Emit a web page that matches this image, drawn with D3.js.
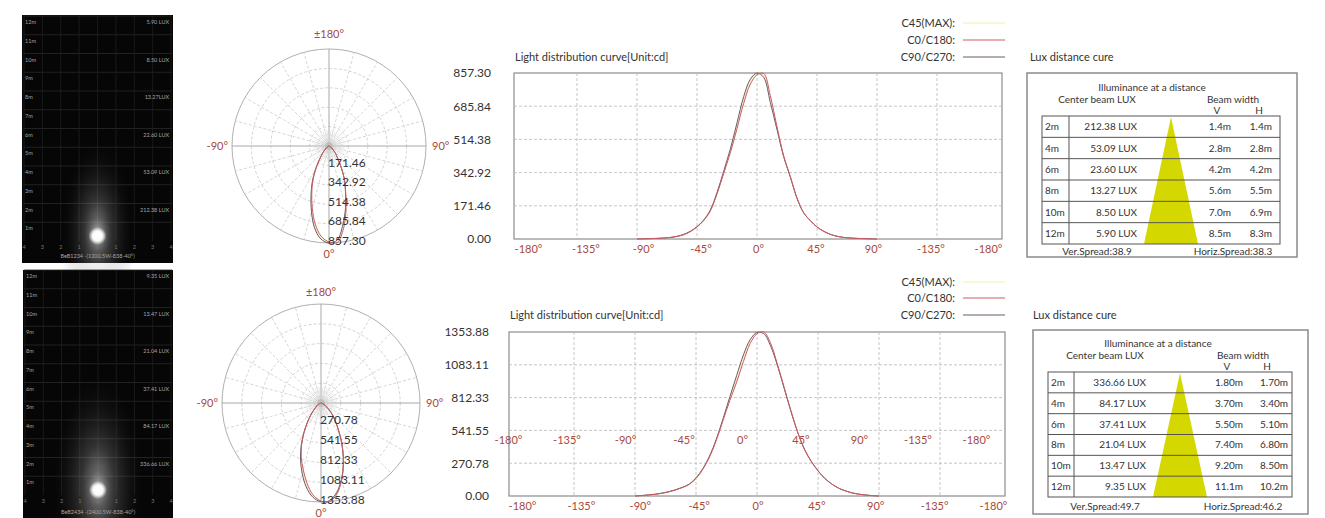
<!DOCTYPE html>
<html><head><meta charset="utf-8">
<script src="https://cdn.jsdelivr.net/npm/d3@7"></script>
<style>
body{margin:0;background:#fff}
svg{display:block}
text{font-family:Lato,"Open Sans","Noto Sans",sans-serif}
</style></head>
<body><svg id="c" width="1325" height="518"></svg>
<script>
// ---------------- DATA ----------------
const angles = [-90,-85,-80,-75,-70,-65,-60,-55,-50,-45,-40,-35,-30,-25,-20,-15,-10,-5,0,5,10,15,20,25,30,35,40,45,50,55,60,65,70,75,80,85,90];
// top luminaire (cd)
const topC45 = [0,1,2,3,5,8,13,23,39,63,96,148,236,344,455,585,718,812,852,845,722,572,428,321,211,135,95,62,40,24,14,8,5,3,2,1,0];
const topC0  = [0,1,2,3,5,8,13,22,38,62,95,145,232,338,445,570,700,800,848,855,740,580,430,322,212,136,95,62,40,24,14,8,5,3,2,1,0];
const topC90 = [0,1,2,3,5,8,14,24,40,64,98,150,240,350,465,600,735,825,857,835,705,565,425,320,210,135,95,62,40,24,14,8,5,3,2,1,0];
// bottom luminaire (cd)
const botC45 = [0,3,8,14,23,35,51,71,97,140,218,322,462,632,805,965,1140,1278,1345,1348,1250,1085,893,702,526,386,286,208,146,100,66,43,26,15,8,3,0];
const botC0  = [0,3,8,14,22,34,50,70,96,145,220,322,460,625,790,940,1110,1260,1340,1354,1262,1090,898,705,528,388,287,209,146,100,66,43,26,15,8,3,0];
const botC90 = [0,4,9,15,24,36,52,72,98,150,225,330,470,640,820,995,1165,1292,1350,1340,1240,1080,890,700,525,385,285,208,145,100,66,43,26,15,8,3,0];

const topYTicks = [0, 171.46, 342.92, 514.38, 685.84, 857.30];
const botYTicks = [0, 270.78, 541.55, 812.33, 1083.11, 1353.88];
const xTicks = [-180,-135,-90,-45,0,45,90,135,180];
const xTickLabels = ["-180°","-135°","-90°","-45°","0°","45°","90°","-135°","-180°"];
const legendNames = ["C45(MAX):","C0/C180:","C90/C270:"];

const distances = ["2m","4m","6m","8m","10m","12m"];
const topLux = ["212.38 LUX","53.09 LUX","23.60 LUX","13.27 LUX","8.50 LUX","5.90 LUX"];
const topV = ["1.4m","2.8m","4.2m","5.6m","7.0m","8.5m"];
const topH = ["1.4m","2.8m","4.2m","5.5m","6.9m","8.3m"];
const topSpread = ["Ver.Spread:38.9","Horiz.Spread:38.3"];
const botLux = ["336.66 LUX","84.17 LUX","37.41 LUX","21.04 LUX","13.47 LUX","9.35 LUX"];
const botV = ["1.80m","3.70m","5.50m","7.40m","9.20m","11.1m"];
const botH = ["1.70m","3.40m","5.10m","6.80m","8.50m","10.2m"];
const botSpread = ["Ver.Spread:49.7","Horiz.Spread:46.2"];

const meters = [1,2,3,4,5,6,7,8,9,10,11,12];
const panelX = [-4,-3,-2,-1,0,1,2,3,4];
const panelLuxMeters = [12,10,8,6,4,2];
const topPanelLux = ["5.90 LUX","8.50 LUX","13.27LUX","22.60 LUX","53.09 LUX","212.38 LUX"];
const botPanelLux = ["9.35 LUX","13.47 LUX","21.04 LUX","37.41 LUX","84.17 LUX","336.66 LUX"];
const panelNames = ["BeB1234 -(1200.5W-838-40°)","BeB2434 -(2400.5W-838-40°)"];

// ---------------- LAYOUT ----------------
const rows = [
 { dark:{x0:22,x1:173,y0:15,y1:263,base:241,step:18.75,labelY:258,glow:1},
   lux: topPanelLux, name: panelNames[0],
   polar:{cx:329,cy:146,R:97,topOff:11},
   chart:{x0:514,x1:1002,y0:73,y1:239,xa:517,xb:997,la:528,lb:988,labX:494,titleY:57,legY:[23,40,57],legTx:955,legL:[963,1005]},
   max:857.30, yTicks:topYTicks, c45:topC45,c0:topC0,c90:topC90,
   table:{bx:1027,by:73,bw:270,bh:184,tx0:1042,tx1:1280,ty0:116,ty1:244,col:1069,
          luxR:1137,vR:1231,hR:1272,tri:[1171,1144,1198],hdr:[87,99,110],vx:1217,hx:1259,cbl:1097,bwx:1233,ill:1152,spY:251,luxTitle:[1030,57]},
   tLux:topLux,tV:topV,tH:topH,spread:topSpread, midAxis:null },
 { dark:{x0:23,x1:173,y0:270,y1:518,base:495,step:18.75,labelY:514,glow:1.25},
   lux: botPanelLux, name: panelNames[1],
   polar:{cx:321,cy:403,R:99,topOff:8},
   chart:{x0:509,x1:1005,y0:332,y1:496,xa:513,xb:1001,la:522,lb:993,labX:492,titleY:315,legY:[282,298,315],legTx:955,legL:[963,1005]},
   max:1353.88, yTicks:botYTicks, c45:botC45,c0:botC0,c90:botC90,
   table:{bx:1033,by:330,bw:275,bh:184,tx0:1048,tx1:1292,ty0:372,ty1:497,col:1074,
          luxR:1146,vR:1243,hR:1288,tri:[1180,1153,1207],hdr:[343,355,366],vx:1227,hx:1267,cbl:1105,bwx:1243,ill:1158,spY:506,luxTitle:[1033,315]},
   tLux:botLux,tV:botV,tH:botH,spread:botSpread, midAxis:{a:508,b:976,y:442} }
];

const COL = {c45:"#f2f0b0", c0:"#cc5a66", c90:"#6a5a66", tick:"#a8493a", grid:"#b8b8b8", frame:"#8c8c8c"};

const svg = d3.select("#c");
const defs = svg.append("defs");
const g1 = defs.append("radialGradient").attr("id","glow");
g1.append("stop").attr("offset","0%").attr("stop-color","#fff").attr("stop-opacity",0.55);
g1.append("stop").attr("offset","35%").attr("stop-color","#bbb").attr("stop-opacity",0.25);
g1.append("stop").attr("offset","100%").attr("stop-color","#000").attr("stop-opacity",0);
const g2 = defs.append("radialGradient").attr("id","core");
g2.append("stop").attr("offset","0%").attr("stop-color","#fff").attr("stop-opacity",1);
g2.append("stop").attr("offset","55%").attr("stop-color","#fff").attr("stop-opacity",0.95);
g2.append("stop").attr("offset","100%").attr("stop-color","#fff").attr("stop-opacity",0);

rows.forEach((R,ri) => {
  // ---------- dark panel ----------
  const d = R.dark;
  const gp = svg.append("g");
  gp.append("rect").attr("x",d.x0).attr("y",d.y0).attr("width",d.x1-d.x0).attr("height",d.y1-d.y0).attr("fill","#060606");
  const my = d3.scaleLinear().domain([0,12]).range([d.base, d.base-12*d.step]);
  const mx = d3.scaleLinear().domain([-4,4]).range([d.x0+2, d.x1-2]);
  gp.selectAll("line.h").data(meters).join("line")
    .attr("x1",d.x0+1).attr("x2",d.x1-1).attr("y1",m=>my(m)).attr("y2",m=>my(m))
    .attr("stroke","#2a2a2a").attr("stroke-width",0.8);
  gp.selectAll("line.v").data(panelX).join("line")
    .attr("x1",v=>mx(v)).attr("x2",v=>mx(v)).attr("y1",my(12)).attr("y2",d.base)
    .attr("stroke","#1e1e1e").attr("stroke-width",0.8);
  const cxp = mx(0);
  gp.append("ellipse").attr("cx",cxp).attr("cy",d.base-8).attr("rx",38*d.glow).attr("ry",95*d.glow).attr("fill","url(#glow)");
  gp.append("ellipse").attr("cx",cxp).attr("cy",d.base-6).attr("rx",16).attr("ry",22).attr("fill","url(#glow)");
  gp.append("ellipse").attr("cx",cxp).attr("cy",d.base-5).attr("rx",9).attr("ry",9).attr("fill","url(#core)");
  gp.selectAll("text.m").data(meters).join("text")
    .attr("x",d.x0+3).attr("y",m=>my(m)+8).attr("font-size",5.5).attr("fill","#a5a5a5").text(m=>m+"m");
  gp.selectAll("text.l").data(panelLuxMeters).join("text")
    .attr("x",d.x1-4).attr("y",(m)=>my(m)+8).attr("text-anchor","end").attr("font-size",5.5).attr("fill","#a5a5a5")
    .text((m,i)=>R.lux[i]);
  gp.selectAll("text.x").data(panelX).join("text")
    .attr("x",v=>mx(v)).attr("y",d.base+8).attr("text-anchor","middle").attr("font-size",5.5).attr("fill","#777")
    .text(v=>Math.abs(v));
  gp.append("text").attr("x",cxp).attr("y",d.labelY).attr("text-anchor","middle").attr("font-size",5.5).attr("fill","#a5a5a5").text(R.name);

  // ---------- polar ----------
  const P = R.polar;
  const gpo = svg.append("g").attr("transform",`translate(${P.cx},${P.cy})`);
  const rS = d3.scaleLinear().domain([0,R.max]).range([0,P.R]);
  const ringVals = R.yTicks.slice(1);
  gpo.selectAll("circle.r").data(ringVals.slice(0,-1)).join("circle")
    .attr("r",v=>rS(v)).attr("fill","none").attr("stroke","#c8c8c8").attr("stroke-width",0.8).attr("stroke-dasharray","3,2");
  gpo.append("circle").attr("r",P.R).attr("fill","none").attr("stroke","#b0b0b0").attr("stroke-width",1);
  const spokes = d3.range(0,360,15);
  gpo.selectAll("line.s").data(spokes).join("line")
    .attr("x1",0).attr("y1",0)
    .attr("x2",a=>P.R*Math.sin(a*Math.PI/180)).attr("y2",a=>-P.R*Math.cos(a*Math.PI/180))
    .attr("stroke",a=>a%90===0?"#a8a8a8":"#cbcbcb").attr("stroke-width",a=>a%90===0?1:0.8)
    .attr("stroke-dasharray",a=>a%90===0?null:"3,2");
  const hub = d3.range(0,360,7.5);
  gpo.selectAll("line.hb").data(hub).join("line")
    .attr("x1",0).attr("y1",0)
    .attr("x2",a=>rS(ringVals[0])*0.8*Math.sin(a*Math.PI/180)).attr("y2",a=>-rS(ringVals[0])*0.8*Math.cos(a*Math.PI/180))
    .attr("stroke","#d0d0d0").attr("stroke-width",0.5);
  gpo.append("circle").attr("r",4).attr("fill","#b8b8b8").attr("opacity",0.7);
  const radial = arr => d3.lineRadial()
      .angle((v,i)=>Math.PI - angles[i]*Math.PI/180)
      .radius(v=>rS(v)).curve(d3.curveCatmullRom)(arr);
  gpo.append("path").attr("d",radial(R.c45)).attr("fill","none").attr("stroke",COL.c45).attr("stroke-width",1);
  gpo.append("path").attr("d",radial(R.c90)).attr("fill","none").attr("stroke",COL.c90).attr("stroke-width",1);
  gpo.append("path").attr("d",radial(R.c0)).attr("fill","none").attr("stroke",COL.c0).attr("stroke-width",1);
  gpo.selectAll("text.rl").data(ringVals).join("text")
    .attr("x",-1).attr("y",v=>rS(v)+1.5).attr("font-size",12).attr("fill","#333")
    .text(v=>v.toFixed(2));
  const pl = [["±180°",0,-P.R-P.topOff,"middle"],["-90°",-P.R-4,4,"end"],["90°",P.R+6,4,"start"],["0°",0,P.R+15,"middle"]];
  gpo.selectAll("text.pl").data(pl).join("text")
    .attr("x",p=>p[1]).attr("y",p=>p[2]).attr("text-anchor",p=>p[3]).attr("font-size",11).attr("fill",COL.tick).text(p=>p[0]);

  // ---------- line chart ----------
  const C = R.chart;
  const gc = svg.append("g");
  const x = d3.scaleLinear().domain([-180,180]).range([C.xa,C.xb]);
  const xl = d3.scaleLinear().domain([-180,180]).range([C.la,C.lb]);
  const y = d3.scaleLinear().domain([0,R.max]).range([C.y1,C.y0]);
  gc.append("rect").attr("x",C.x0).attr("y",C.y0).attr("width",C.x1-C.x0).attr("height",C.y1-C.y0)
    .attr("fill","#fff").attr("stroke",COL.frame).attr("stroke-width",1.2);
  gc.selectAll("line.gx").data(xTicks.slice(1,-1)).join("line")
    .attr("x1",v=>x(v)).attr("x2",v=>x(v)).attr("y1",C.y0).attr("y2",C.y1)
    .attr("stroke",COL.grid).attr("stroke-width",0.8).attr("stroke-dasharray","3,2");
  gc.selectAll("line.gy").data(R.yTicks.slice(1,-1)).join("line")
    .attr("x1",C.x0).attr("x2",C.x1).attr("y1",v=>y(v)).attr("y2",v=>y(v))
    .attr("stroke",COL.grid).attr("stroke-width",0.8).attr("stroke-dasharray","3,2");
  const yAx = d3.axisLeft(y).tickValues(R.yTicks).tickSize(0).tickFormat(v=>v.toFixed(2));
  const ya = gc.append("g").attr("transform",`translate(${C.labX},0)`).call(yAx);
  ya.select(".domain").remove();
  ya.selectAll("text").attr("font-size",12).attr("fill","#333").attr("font-family","Lato,'Open Sans',sans-serif");
  const xAx = d3.axisBottom(xl).tickValues(xTicks).tickSize(0).tickFormat((v,i)=>xTickLabels[i]);
  const xa = gc.append("g").attr("transform",`translate(0,${C.y1+3})`).call(xAx);
  xa.select(".domain").remove();
  xa.selectAll("text").attr("font-size",11).attr("fill",COL.tick).attr("font-family","Lato,'Open Sans',sans-serif");
  if (R.midAxis) {
    const xm = d3.scaleLinear().domain([-180,180]).range([R.midAxis.a,R.midAxis.b]);
    const ma = gc.append("g").attr("transform",`translate(0,${R.midAxis.y-9})`).call(d3.axisBottom(xm).tickValues(xTicks).tickSize(0).tickFormat((v,i)=>xTickLabels[i]));
    ma.select(".domain").remove();
    ma.selectAll("text").attr("font-size",11).attr("fill",COL.tick).attr("font-family","Lato,'Open Sans',sans-serif");
  }
  const line = d3.line().x((v,i)=>x(angles[i])).y(v=>y(v)).curve(d3.curveCatmullRom);
  gc.append("path").attr("d",line(R.c45)).attr("fill","none").attr("stroke",COL.c45).attr("stroke-width",1);
  gc.append("path").attr("d",line(R.c90)).attr("fill","none").attr("stroke",COL.c90).attr("stroke-width",1);
  gc.append("path").attr("d",line(R.c0)).attr("fill","none").attr("stroke",COL.c0).attr("stroke-width",1);
  gc.append("text").attr("x",C.x0+1).attr("y",C.titleY+4).attr("font-size",11).attr("fill","#333").text("Light distribution curve[Unit:cd]");
  const legCols = [COL.c45, COL.c0, COL.c90];
  legendNames.forEach((n,i)=>{
    gc.append("text").attr("x",C.legTx).attr("y",C.legY[i]+4).attr("text-anchor","end").attr("font-size",11).attr("fill","#333").text(n);
    gc.append("line").attr("x1",C.legL[0]).attr("x2",C.legL[1]).attr("y1",C.legY[i]).attr("y2",C.legY[i]).attr("stroke",legCols[i]).attr("stroke-width",1);
  });

  // ---------- lux table ----------
  const T = R.table;
  const gt = svg.append("g");
  gt.append("text").attr("x",T.luxTitle[0]).attr("y",T.luxTitle[1]+4).attr("font-size",11).attr("fill","#333").text("Lux distance cure");
  gt.append("rect").attr("x",T.bx).attr("y",T.by).attr("width",T.bw).attr("height",T.bh).attr("fill","#fff").attr("stroke","#8a8a8a").attr("stroke-width",1.5);
  const rowY = d3.scaleBand().domain(distances).range([T.ty0,T.ty1]);
  gt.append("polygon").attr("points",[[T.tri[0],T.ty0+1],[T.tri[1],T.ty1],[T.tri[2],T.ty1]].join(" ")).attr("fill","#d4d800");
  gt.append("rect").attr("x",T.tx0).attr("y",T.ty0).attr("width",T.tx1-T.tx0).attr("height",T.ty1-T.ty0).attr("fill","none").attr("stroke","#555").attr("stroke-width",1);
  gt.selectAll("line.rw").data(distances.slice(1)).join("line")
    .attr("x1",T.tx0).attr("x2",T.tx1).attr("y1",dd=>rowY(dd)).attr("y2",dd=>rowY(dd)).attr("stroke","#555").attr("stroke-width",1);
  gt.append("line").attr("x1",T.col).attr("x2",T.col).attr("y1",T.ty0).attr("y2",T.ty1).attr("stroke","#555").attr("stroke-width",1);
  const fs = 10, mid = dd=>rowY(dd)+rowY.bandwidth()/2+3.5;
  gt.selectAll("text.d").data(distances).join("text").attr("x",T.tx0+3).attr("y",mid).attr("font-size",fs).attr("fill","#333").text(dd=>dd);
  gt.selectAll("text.lx").data(distances).join("text").attr("x",T.luxR).attr("y",mid).attr("text-anchor","end").attr("font-size",fs).attr("fill","#333").text((dd,i)=>R.tLux[i]);
  gt.selectAll("text.v").data(distances).join("text").attr("x",T.vR).attr("y",mid).attr("text-anchor","end").attr("font-size",fs).attr("fill","#333").text((dd,i)=>R.tV[i]);
  gt.selectAll("text.hh").data(distances).join("text").attr("x",T.hR).attr("y",mid).attr("text-anchor","end").attr("font-size",fs).attr("fill","#333").text((dd,i)=>R.tH[i]);
  const hdr = [["Illuminance at a distance",T.ill,T.hdr[0]],["Center beam LUX",T.cbl,T.hdr[1]],["Beam width",T.bwx,T.hdr[1]],["V",T.vx,T.hdr[2]],["H",T.hx,T.hdr[2]],
               [R.spread[0],T.cbl,T.spY],[R.spread[1],T.bwx,T.spY]];
  gt.selectAll("text.hd").data(hdr).join("text").attr("x",h=>h[1]).attr("y",h=>h[2]+3.5).attr("text-anchor","middle").attr("font-size",fs).attr("fill","#333").text(h=>h[0]);
});
</script></body></html>
